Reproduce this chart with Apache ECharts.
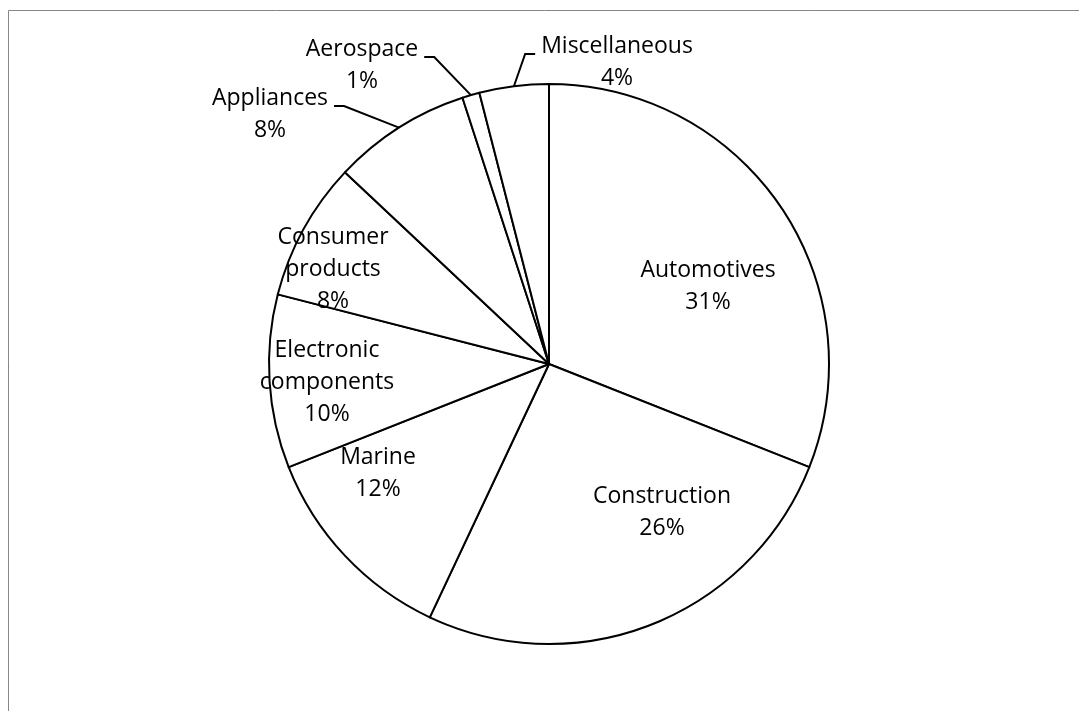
<!DOCTYPE html>
<html>
<head>
<meta charset="utf-8">
<script src="https://cdn.jsdelivr.net/npm/echarts@6/dist/echarts.min.js"></script>
<style>
  html, body { margin: 0; padding: 0; background: #ffffff; }
  #chart { width: 1079px; height: 711px; }
</style>
</head>
<body>
<div id="chart"></div>
<script>
// ---- data ----
const categories = ['Automotives', 'Construction', 'Marine', 'Electronic components',
                    'Consumer products', 'Appliances', 'Aerospace', 'Miscellaneous'];
const shares = [31, 26, 12, 10, 8, 8, 1, 4];

// ---- layout (label placement relative to the pie centre, px) ----
const labelOffsets = [[159, -78], [113, 148], [-171, 109], [-222, 18],
                      [-216, -95], [-279, -250], [-187, -299], [68, -302]];
const outsideLabel = [false, false, false, false, false, true, true, true];

const CX = 549, CY = 364, R = 280;
const FONT = '"Open Sans"';

const total = shares.reduce((a, b) => a + b, 0);
const midBearing = [];
let acc = 0;
shares.forEach(v => { midBearing.push((acc + v / 2) / total * 360); acc += v; });

const chart = echarts.init(document.getElementById('chart'), null, { renderer: 'canvas' });

const data = categories.map((name, i) => ({
  name: name,
  value: shares[i],
  label: { position: outsideLabel[i] ? 'outside' : 'inside' },
  labelLine: { show: outsideLabel[i] }
}));

chart.setOption({
  animation: false,
  backgroundColor: '#ffffff',
  graphic: [{
    type: 'rect',
    silent: true,
    shape: { x: 8.5, y: 10.5, width: 1200, height: 900 },
    style: { fill: 'none', stroke: '#878787', lineWidth: 1 }
  }],
  series: [{
    type: 'pie',
    center: [CX, CY],
    radius: R,
    startAngle: 90,
    clockwise: true,
    avoidLabelOverlap: false,
    silent: true,
    data: data,
    itemStyle: { color: '#ffffff', borderColor: '#000000', borderWidth: 2 },
    label: {
      color: '#000000',
      fontFamily: FONT,
      fontSize: 23,
      lineHeight: 32,
      align: 'center',
      formatter: p => p.name.split(' ').join('\n') + '\n' + p.value + '%'
    },
    labelLine: {
      lineStyle: { color: '#000000', width: 2 },
      length: 10, length2: 10
    },
    emphasis: { disabled: true },
    labelLayout: function (params) {
      const i = params.dataIndex;
      const x = CX + labelOffsets[i][0];
      const y = CY + labelOffsets[i][1];
      const out = { x: x, y: y, align: 'center', verticalAlign: 'middle' };
      if (outsideLabel[i]) {
        const b = midBearing[i] * Math.PI / 180;
        const ax = CX + R * Math.sin(b);
        const ay = CY - R * Math.cos(b);
        const w = params.labelRect.width;
        const side = ax > x ? 1 : -1;
        const tx = x + side * (w / 2 + 6);
        const ty = y - 8;
        out.labelLinePoints = [[ax, ay], [tx + side * 10, ty], [tx, ty]];
      }
      return out;
    }
  }]
});
</script>
</body>
</html>
